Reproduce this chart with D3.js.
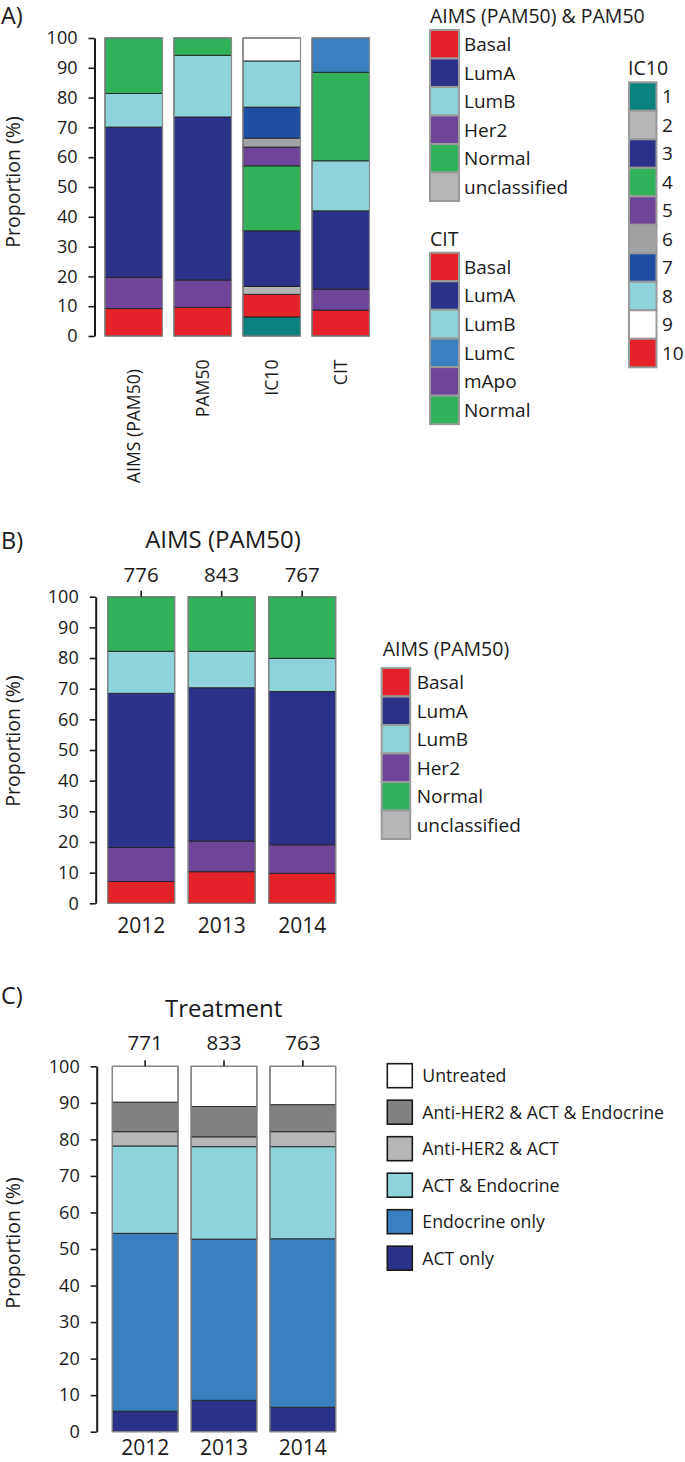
<!DOCTYPE html>
<html>
<head>
<meta charset="utf-8">
<script src="https://cdnjs.cloudflare.com/ajax/libs/d3/7.8.5/d3.min.js"></script>
<style>
  html, body { margin: 0; padding: 0; background: #fff; }
  svg { display: block; font-family: "Open Sans", "Noto Sans", sans-serif; }
</style>
</head>
<body>
<svg id="chart" width="685" height="1462"></svg>
<script>
// ---------- DATA ----------
const yTicks = [0, 10, 20, 30, 40, 50, 60, 70, 80, 90, 100];

// Panel A
const panelACategories = ["AIMS (PAM50)", "PAM50", "IC10", "CIT"];
const aimsStackKeys = ["Basal", "Her2", "LumA", "LumB", "Normal", "unclassified"];
const aimsValuesA = [9.2, 10.5, 50.4, 11.3, 18.6, 0];
const pam50ValuesA = [9.6, 9.2, 54.7, 20.7, 5.8, 0];
const ic10StackKeys = ["1", "10", "2", "3", "4", "5", "6", "7", "8", "9"];
const ic10ValuesA = [6.4, 7.6, 2.6, 18.7, 21.8, 6.3, 3.0, 10.4, 15.5, 7.7];
const citStackKeys = ["Basal", "mApo", "LumA", "LumB", "Normal", "LumC"];
const citValuesA = [8.7, 7.0, 26.3, 16.8, 29.7, 11.5];

const aimsLegendKeys = ["Basal", "LumA", "LumB", "Her2", "Normal", "unclassified"];
const citLegendKeys = ["Basal", "LumA", "LumB", "LumC", "mApo", "Normal"];
const ic10LegendKeys = ["1", "2", "3", "4", "5", "6", "7", "8", "9", "10"];

// Panel B
const years = ["2012", "2013", "2014"];
const aimsCountsB = [776, 843, 767];
const aimsKeysB = ["Basal", "Her2", "LumA", "LumB", "Normal", "unclassified"];
const basalB = [7.1, 10.3, 9.8];
const her2B = [11.1, 10.0, 9.3];
const lumAB = [50.3, 50.0, 50.0];
const lumBB = [13.7, 11.9, 10.8];
const normalB = [17.8, 17.8, 20.1];
const unclassifiedB = [0, 0, 0];

// Panel C
const treatmentCounts = [771, 833, 763];
const treatmentKeys = ["ACT only", "Endocrine only", "ACT & Endocrine", "Anti-HER2 & ACT", "Anti-HER2 & ACT & Endocrine", "Untreated"];
const actOnly = [5.6, 8.6, 6.7];
const endocrineOnly = [48.7, 44.1, 46.1];
const actEndocrine = [23.9, 25.3, 25.2];
const antiHer2Act = [3.9, 2.7, 4.1];
const antiHer2ActEndocrine = [8.1, 8.3, 7.4];
const untreated = [9.8, 11.0, 10.5];

// ---------- COLOURS ----------
const subtypeColor = {
  "Basal": "#e52229", "LumA": "#2c318a", "LumB": "#8fd3da", "Her2": "#6f4599",
  "Normal": "#31b25a", "unclassified": "#b4b6b8", "LumC": "#3a7fc0", "mApo": "#6f4599"
};
const ic10Color = {
  "1": "#0c827e", "2": "#b4b6b8", "3": "#2c318a", "4": "#31b25a", "5": "#6f4599",
  "6": "#a0a2a4", "7": "#1f4fa3", "8": "#8fd3da", "9": "#ffffff", "10": "#e52229"
};
const treatmentColor = {
  "Untreated": "#ffffff", "Anti-HER2 & ACT & Endocrine": "#808183", "Anti-HER2 & ACT": "#b4b6b8",
  "ACT & Endocrine": "#8fd3da", "Endocrine only": "#3a7fc0", "ACT only": "#2c318a"
};

const svg = d3.select("#chart");
const TXT = "#1a1a1a";

function drawYAxis(y, axisX, labelY) {
  const g = svg.append("g").attr("transform", `translate(${axisX},0)`)
    .call(d3.axisLeft(y).tickValues(yTicks).tickSize(6).tickSizeOuter(0).tickPadding(11));
  g.select(".domain").attr("stroke", TXT).attr("stroke-width", 2);
  g.selectAll(".tick line").attr("stroke", TXT).attr("stroke-width", 1.6);
  g.selectAll(".tick text").attr("fill", TXT).style("font-size", "18px").style("font-family", "Open Sans");
  svg.append("text")
    .attr("transform", `translate(20,${labelY}) rotate(-90)`)
    .attr("text-anchor", "middle").attr("fill", TXT)
    .style("font-size", "19.5px")
    .text("Proportion (%)");
}

function drawSegments(segs, x0, w, y) {
  const g = svg.append("g");
  g.selectAll("rect").data(segs.filter(d => d.v > 0)).join("rect")
    .attr("x", x0).attr("width", w)
    .attr("y", d => y(d.y1)).attr("height", d => y(d.y0) - y(d.y1))
    .attr("fill", d => d.color).attr("stroke", "#222").attr("stroke-width", 0.9);
  g.append("rect").attr("x", x0).attr("width", w)
    .attr("y", y(100)).attr("height", y(0) - y(100))
    .attr("fill", "none").attr("stroke", "#8a8a8a").attr("stroke-width", 1.2);
}

function stackList(keys, values, colorMap) {
  const cum = d3.cumsum(values);
  return keys.map((k, i) => ({ key: k, v: values[i], y0: cum[i] - values[i], y1: cum[i], color: colorMap[k] }));
}

function boxLegend(x, y0, keys, colorMap, labels, opts) {
  const g = svg.append("g");
  const h = opts.h, w = opts.w, step = opts.step;
  keys.forEach((k, i) => {
    g.append("rect").attr("x", x).attr("y", y0 + i * step).attr("width", w).attr("height", h)
      .attr("fill", colorMap[k]).attr("stroke", opts.stroke).attr("stroke-width", opts.sw);
    g.append("text").attr("x", x + opts.tx).attr("y", y0 + i * step + h / 2)
      .attr("dy", "0.36em").attr("fill", TXT).style("font-size", opts.fs + "px")
      .text(labels ? labels[i] : k);
  });
}

function title(x, y, txt, fs, anchor) {
  svg.append("text").attr("x", x).attr("y", y).attr("text-anchor", anchor || "start")
    .attr("fill", TXT).style("font-size", fs + "px").text(txt);
}

// ---------- PANEL A ----------
title(1, 23.5, "A)", 23.5);
const yA = d3.scaleLinear().domain([0, 100]).range([336, 38]);
const xA = d3.scaleBand().domain(panelACategories).range([105, 369.5]).paddingInner(0.1667).paddingOuter(0);
drawYAxis(yA, 94.5, 182);
const barsA = [
  stackList(aimsStackKeys, aimsValuesA, subtypeColor),
  stackList(aimsStackKeys, pam50ValuesA, subtypeColor),
  stackList(ic10StackKeys, ic10ValuesA, ic10Color),
  stackList(citStackKeys, citValuesA, subtypeColor)
];
panelACategories.forEach((c, i) => drawSegments(barsA[i], xA(c), xA.bandwidth(), yA));
panelACategories.forEach((c, i) => {
  const cx = xA(c) + xA.bandwidth() / 2;
  const yEnd = i === 0 ? 369 : 359.5;
  svg.append("text").attr("transform", `translate(${cx + 6},${yEnd}) rotate(-90)`)
    .attr("text-anchor", "end").attr("fill", TXT).style("font-size", "17.6px").text(c);
});
// Panel A legends
title(430, 23, "AIMS (PAM50) & PAM50", 19.5);
boxLegend(430, 30, aimsLegendKeys, subtypeColor, null, { w: 29, h: 28.5, step: 28.5, stroke: "#9a9a9a", sw: 2, tx: 34, fs: 19 });
title(430, 246, "CIT", 19.5);
boxLegend(430, 252.7, citLegendKeys, subtypeColor, null, { w: 29, h: 28.5, step: 28.6, stroke: "#9a9a9a", sw: 2, tx: 34, fs: 19 });
title(628, 75, "IC10", 19.5);
boxLegend(629, 82.3, ic10LegendKeys, ic10Color, null, { w: 27.5, h: 28.5, step: 28.5, stroke: "#9a9a9a", sw: 2, tx: 33, fs: 19 });

// ---------- PANEL B ----------
title(1, 549, "B)", 23.5);
title(223, 548, "AIMS (PAM50)", 24, "middle");
const yB = d3.scaleLinear().domain([0, 100]).range([903.3, 596.7]);
const xB = d3.scaleBand().domain(years).range([107.7, 335.7]).paddingInner(0.168).paddingOuter(0);
drawYAxis(yB, 95.7, 741);
const seriesB = [basalB, her2B, lumAB, lumBB, normalB, unclassifiedB];
const tableB = years.map((yr, j) => {
  const o = { year: yr };
  aimsKeysB.forEach((k, i) => { o[k] = seriesB[i][j]; });
  return o;
});
const stackedB = d3.stack().keys(aimsKeysB)(tableB);
years.forEach((yr, j) => {
  const segs = stackedB.map(s => ({ key: s.key, v: s[j][1] - s[j][0], y0: s[j][0], y1: s[j][1], color: subtypeColor[s.key] }));
  drawSegments(segs, xB(yr), xB.bandwidth(), yB);
});
function countAxis(x, y, counts, pad) {
  const g = svg.append("g").attr("transform", `translate(0,${y(100)})`)
    .call(d3.axisTop(x).tickSize(6).tickSizeOuter(0).tickPadding(pad).tickFormat((d, i) => counts[i]));
  g.select(".domain").remove();
  g.selectAll(".tick line").attr("stroke", TXT).attr("stroke-width", 1.6);
  g.selectAll(".tick text").attr("fill", TXT).style("font-size", "20.5px").style("font-family", "Open Sans");
}
function yearAxis(x, y, pad) {
  const g = svg.append("g").attr("transform", `translate(0,${y(0)})`)
    .call(d3.axisBottom(x).tickSize(0).tickPadding(pad));
  g.select(".domain").remove();
  g.selectAll(".tick text").attr("fill", TXT).style("font-size", "21px").style("font-family", "Open Sans");
}
countAxis(xB, yB, aimsCountsB, 9);
yearAxis(xB, yB, 15);
title(382.7, 656, "AIMS (PAM50)", 19.5);
boxLegend(381.7, 668, aimsLegendKeys, subtypeColor, null, { w: 28.5, h: 28.5, step: 28.5, stroke: "#9a9a9a", sw: 2, tx: 35, fs: 19 });

// ---------- PANEL C ----------
title(1, 1004, "C)", 23.5);
title(223.7, 1016.7, "Treatment", 24, "middle");
const yC = d3.scaleLinear().domain([0, 100]).range([1431.7, 1066.3]);
const xC = d3.scaleBand().domain(years).range([112.3, 335.7]).paddingInner(0.167).paddingOuter(0);
drawYAxis(yC, 96.7, 1243);
const seriesC = [actOnly, endocrineOnly, actEndocrine, antiHer2Act, antiHer2ActEndocrine, untreated];
const tableC = years.map((yr, j) => {
  const o = { year: yr };
  treatmentKeys.forEach((k, i) => { o[k] = seriesC[i][j]; });
  return o;
});
const stackedC = d3.stack().keys(treatmentKeys)(tableC);
years.forEach((yr, j) => {
  const segs = stackedC.map(s => ({ key: s.key, v: s[j][1] - s[j][0], y0: s[j][0], y1: s[j][1], color: treatmentColor[s.key] }));
  drawSegments(segs, xC(yr), xC.bandwidth(), yC);
});
countAxis(xC, yC, treatmentCounts, 10);
yearAxis(xC, yC, 8.5);
const treatLegendKeys = treatmentKeys.slice().reverse();
const gl = svg.append("g");
treatLegendKeys.forEach((k, i) => {
  const cy = 1075.7 + i * 36.5;
  gl.append("rect").attr("x", 387.3).attr("y", cy - 12).attr("width", 25).attr("height", 24)
    .attr("fill", treatmentColor[k]).attr("stroke", "#1a1a1a").attr("stroke-width", 1.6);
  gl.append("text").attr("x", 422.3).attr("y", cy).attr("dy", "0.36em")
    .attr("fill", TXT).style("font-size", "17.7px").text(k);
});
</script>
</body>
</html>
